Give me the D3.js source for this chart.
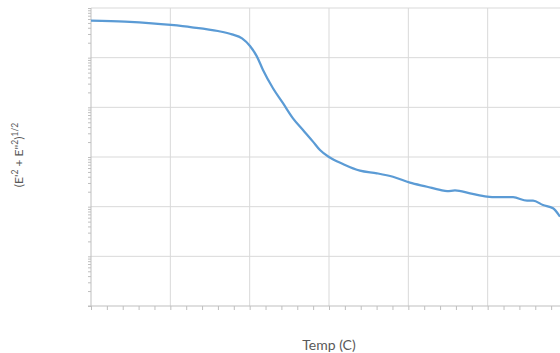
<!DOCTYPE html>
<html>
<head>
<meta charset="utf-8">
<script src="https://cdn.jsdelivr.net/npm/d3@7"></script>
<style>
  body { margin: 0; background: #fff; }
  text { font-family: Lato, "Open Sans", sans-serif; fill: #595959; }
</style>
</head>
<body>
<div id="chart"></div>
<script>
// data (temperature in C, modulus in Pa)
const temps = [-100, -78.6, -61.6, -49.6, -36.3, -20, -11.1, -4.8, 0.2, 4.6, 8.4, 14.7, 21, 27.3, 33.6, 39.9, 44.3, 50,
  58.8, 69.5, 80.2, 90.3, 101, 111.8, 120, 124.5, 129.4, 138.9, 149.6, 155.9, 166, 174.8, 178.6, 184.9, 191.2, 195.6];
const modulus = [5.55e9, 5.30e9, 4.92e9, 4.55e9, 4.09e9, 3.44e9, 2.95e9, 2.45e9, 1.72e9, 1.05e9, 5.65e8, 2.42e8, 1.21e8,
  6.01e7, 3.50e7, 2.04e7, 1.38e7, 1.0e7, 7.23e6, 5.30e6, 4.70e6, 4.01e6, 3.04e6, 2.52e6, 2.17e6, 2.05e6, 2.12e6, 1.86e6,
  1.59e6, 1.55e6, 1.55e6, 1.32e6, 1.32e6, 1.08e6, 9.27e5, 6.28e5];
const xTicks = [-100, -50, 0, 50, 100, 150, 200];
const yDecades = [1e4, 1e5, 1e6, 1e7, 1e8, 1e9, 1e10];

const data = temps.map((t, i) => ({temp: t, value: modulus[i]}));

// chart setup
const W = 560, H = 353;
const margin = {top: 8, right: -7, bottom: 47, left: 91};
const width = W - margin.left - margin.right;
const height = H - margin.top - margin.bottom;

const svg = d3.select("#chart")
    .append("svg")
    .attr("width", W)
    .attr("height", H);

const g = svg.append("g")
    .attr("transform", `translate(${margin.left},${margin.top})`);

const x = d3.scaleLinear().domain([-100, 200]).range([0, width]);
const y = d3.scaleLog().domain([1e4, 1e10]).range([height, 0]);

// gridlines
g.append("g")
    .selectAll("line.vg")
    .data(xTicks.slice(1))
    .join("line")
    .attr("x1", d => x(d)).attr("x2", d => x(d))
    .attr("y1", 0).attr("y2", height)
    .attr("stroke", "#d9d9d9").attr("stroke-width", 1);

g.append("g")
    .selectAll("line.hg")
    .data(yDecades.slice(1))
    .join("line")
    .attr("x1", 0).attr("x2", width)
    .attr("y1", d => y(d)).attr("y2", d => y(d))
    .attr("stroke", "#d9d9d9").attr("stroke-width", 1);

// minor log ticks on the y axis
const yMinor = [];
yDecades.slice(0, -1).forEach(dec => {
  for (let k = 1; k < 10; k++) yMinor.push(dec * k);
});
yMinor.push(1e10);

const yAxis = d3.axisLeft(y).tickValues(yMinor).tickSize(3).tickFormat("");
const yAxisGroup = g.append("g").call(yAxis);

// x axis with minor ticks every 10
const xAxis = d3.axisBottom(x).tickValues(d3.range(-100, 201, 10)).tickSize(4).tickFormat("");
const xAxisGroup = g.append("g")
    .attr("transform", `translate(0,${height})`)
    .call(xAxis);

[yAxisGroup, xAxisGroup].forEach(a => {
  a.select(".domain").attr("stroke", "#bfbfbf");
  a.selectAll(".tick line").attr("stroke", "#bfbfbf");
});
yAxisGroup.select(".domain").attr("d", `M0,0V${height}`);
xAxisGroup.select(".domain").attr("d", `M-3,0H${width}`);

// line
const line = d3.line()
    .x(d => x(d.temp))
    .y(d => y(d.value))
    .curve(d3.curveMonotoneX);

g.append("path")
    .datum(data)
    .attr("fill", "none")
    .attr("stroke", "#5b9bd5")
    .attr("stroke-width", 2.25)
    .attr("d", line);

// axis titles
svg.append("text")
    .attr("x", margin.left + x(50))
    .attr("y", 350)
    .attr("text-anchor", "middle")
    .attr("font-size", 14)
    .text("Temp (C)");

const yt = svg.append("text")
    .attr("transform", "translate(23,155) rotate(-90)")
    .attr("text-anchor", "middle")
    .attr("font-size", 12);
yt.append("tspan").text("(E'");
yt.append("tspan").attr("font-size", 8.5).attr("dy", -5).text("2");
yt.append("tspan").attr("dy", 5).text(" + E''");
yt.append("tspan").attr("font-size", 8.5).attr("dy", -5).text("2");
yt.append("tspan").attr("dy", 5).text(")");
yt.append("tspan").attr("font-size", 8.5).attr("dy", -5).text("1/2");
</script>
</body>
</html>
